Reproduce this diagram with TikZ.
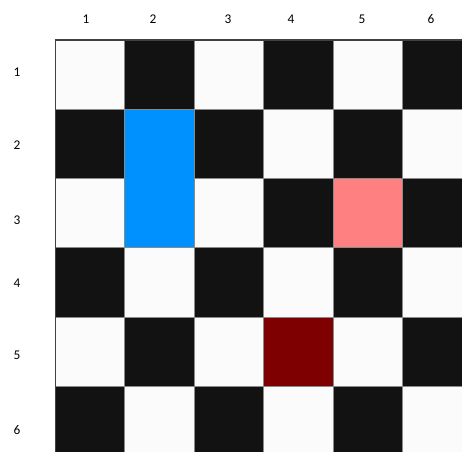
\documentclass[tikz,border=0pt]{standalone}
\usepackage{fontspec}
\setmainfont{Carlito}
\definecolor{cwhite}{HTML}{FBFBFB}
\definecolor{cblack}{HTML}{121212}
\definecolor{cblue}{HTML}{0091FF}
\definecolor{cpink}{HTML}{FF8080}
\definecolor{cred}{HTML}{7F0000}
\definecolor{cline}{HTML}{8A8A8A}
\begin{document}
\begin{tikzpicture}[x=0.75pt,y=-0.75pt,
  lbl/.style={font=\fontsize{10}{12}\selectfont, text=black, inner sep=0pt},
  cell/.style={draw=cline, line width=0.6pt}]
\useasboundingbox (0,0) rectangle (462,452);
\fill[white] (0,0) rectangle (462,452);
\begin{scope}
\clip (0,0) rectangle (462,452);
\foreach \r in {1,...,6} {
  \foreach \c in {1,...,6} {
    \pgfmathtruncatemacro{\s}{mod(\r+\c,2)}
    \ifnum\s=1
      \def\col{cblack}
    \else
      \def\col{cwhite}
    \fi
    \filldraw[cell, fill=\col] ({55.5+(\c-1)*69.4},{40+(\r-1)*69.3}) rectangle ++(69.4,69.3);
  }
}
\filldraw[cell, fill=cblue] ({55.5+69.4},{40+69.3}) rectangle ++(69.4,138.6);
\filldraw[cell, fill=cpink] ({55.5+4*69.4},{40+2*69.3}) rectangle ++(69.4,69.3);
\filldraw[cell, fill=cred] ({55.5+3*69.4},{40+4*69.3}) rectangle ++(69.4,69.3);
\draw[draw=black!75, line width=1pt] (55.5,452) |- (462,40);
\end{scope}
\node[lbl] (c1) at (86,19) {1};
\node[lbl] (c2) at (153,19) {2};
\node[lbl] (c3) at (228,19) {3};
\node[lbl] (c4) at (291,19) {4};
\node[lbl] (c5) at (362,19) {5};
\node[lbl] (c6) at (431,19) {6};
\node[lbl] (r1) at (17,72) {1};
\node[lbl] (r2) at (17,145) {2};
\node[lbl] (r3) at (17,220) {3};
\node[lbl] (r4) at (17,283) {4};
\node[lbl] (r5) at (17,355) {5};
\node[lbl] (r6) at (17,430) {6};
\end{tikzpicture}
\end{document}
